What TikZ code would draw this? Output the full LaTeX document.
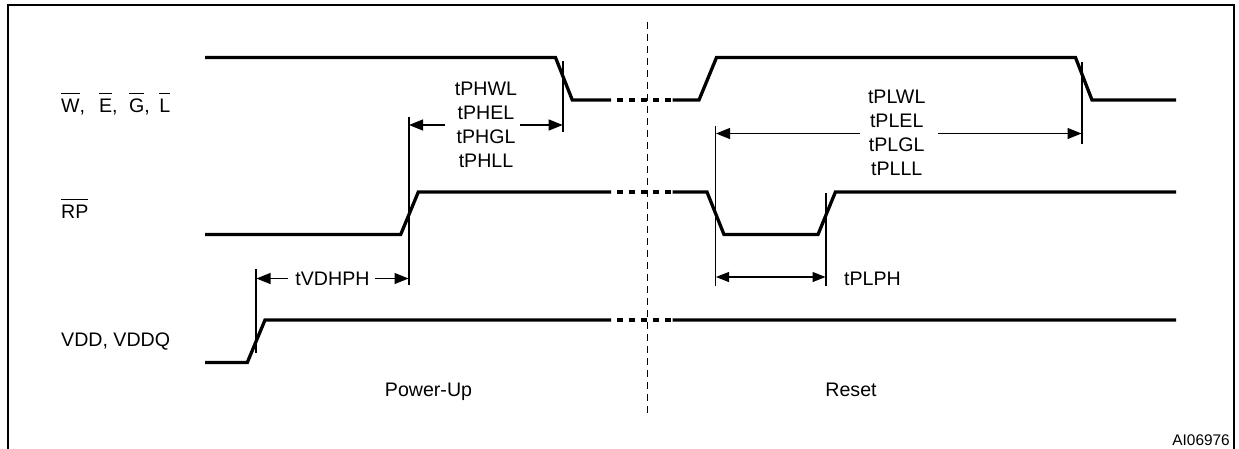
\documentclass[tikz,border=0pt]{standalone}
\usepackage{fontspec}
\setmainfont{Liberation Sans}
\usetikzlibrary{arrows.meta}
\tikzset{
 sig/.style={line width=3.3pt,line join=miter},
 sigbreak/.style={line width=3.3pt,dash pattern=on 6pt off 6pt},
 ext/.style={line width=1.2pt},
 dim/.style={line width=1.1pt,-{Triangle[length=14pt,width=11pt]}},
 dimtwo/.style={line width=1.1pt,{Triangle[length=13pt,width=10pt]}-{Triangle[length=13pt,width=10pt]}},
 lab/.style={font=\fontsize{19.6}{24}\selectfont,inner sep=0pt,anchor=base},
 frame/.style={line width=2pt},
 divider/.style={line width=1.3pt,dash pattern=on 7pt off 5pt},
}
\newcommand{\ovl}[1]{\leavevmode\vbox{\hrule height 1.1pt \kern 4.6pt \hbox{#1}}}
\begin{document}
\begin{tikzpicture}[x=1pt,y=-1pt]
\useasboundingbox (0,0) rectangle (1239,448);
\draw[frame] (8,449) -- (8,5) -- (1233.5,5) -- (1233.5,449);
\coordinate (da) at (647.5,22); \coordinate (db) at (647.5,413);
\draw[divider] (da) -- (db);
% top
\draw[sig] (205,57.5) -- (555.5,57.5) -- (572.3,100) -- (611,100);
\draw[sigbreak] (617,100) -- (672,100);
\draw[sig] (672.5,100) -- (699,100) -- (716.5,57.5) -- (1075.5,57.5) -- (1092,100) -- (1176,100);
% RP
\draw[sig] (205,234.5) -- (400.7,234.5) -- (418.3,192) -- (611,192);
\draw[sigbreak] (617,192) -- (672,192);
\draw[sig] (672.5,192) -- (707,192) -- (724,234.5) -- (818,234.5) -- (835.4,192) -- (1176,192);
% VDD
\draw[sig] (205,362.5) -- (247.3,362.5) -- (265,320) -- (611,320);
\draw[sigbreak] (617,320) -- (672,320);
\draw[sig] (672.5,320) -- (900,320.02) -- (1176,320);
% extensions
\coordinate (e1a) at (409,116.7); \coordinate (e1b) at (409,285);
\coordinate (e2a) at (563,61); \coordinate (e2b) at (563,132.3);
\coordinate (e3a) at (715.5,126); \coordinate (e3b) at (715.5,285.5);
\coordinate (e4a) at (1082,61.7); \coordinate (e4b) at (1082,143.5);
\coordinate (e5a) at (826,193); \coordinate (e5b) at (826,285.5);
\coordinate (e6a) at (256,269); \coordinate (e6b) at (256,353.3);
\foreach \a/\b in {e1a/e1b,e2a/e2b,e3a/e3b,e4a/e4b,e5a/e5b,e6a/e6b}{\draw[ext] (\a) -- (\b);}
% dimension arrows
\coordinate (d1a) at (445,125); \coordinate (d1t) at (409,125);
\coordinate (d2a) at (520,125); \coordinate (d2t) at (562.7,125);
\coordinate (d3a) at (859.7,133.5); \coordinate (d3t) at (716,133.5);
\coordinate (d4a) at (938,133.5); \coordinate (d4t) at (1081.5,133.5);
\coordinate (d5a) at (716,277); \coordinate (d5b) at (825.5,277);
\coordinate (d6a) at (288,278.5); \coordinate (d6t) at (256.5,278.5);
\coordinate (d7a) at (375,278.5); \coordinate (d7t) at (408.5,278.5);
\draw[dim] (d1a) -- (d1t);
\draw[dim] (d2a) -- (d2t);
\draw[dim] (d3a) -- (d3t);
\draw[dim] (d4a) -- (d4t);
\draw[dimtwo] (d5a) -- (d5b);
\draw[dim] (d6a) -- (d6t);
\draw[dim] (d7a) -- (d7t);
% labels
\node[lab] (a1) at (486,95) {tPHWL};
\node[lab] (a2) at (486,119.3) {tPHEL};
\node[lab] (a3) at (486,143.3) {tPHGL};
\node[lab] (a4) at (486,167.3) {tPHLL};
\node[lab] (b1) at (896.7,103.3) {tPLWL};
\node[lab] (b2) at (896.7,127.3) {tPLEL};
\node[lab] (b3) at (896.7,151.3) {tPLGL};
\node[lab] (b4) at (896.7,175.3) {tPLLL};
\node[lab,anchor=base west] (c) at (844,285.7) {tPLPH};
\node[lab] (d) at (332.5,285.7) {tVDHPH};
\node[lab] (p) at (428.5,396.7) {Power-Up};
\node[lab] (r) at (851,396.7) {Reset};
\node[lab,anchor=base west] (v) at (61,346.7) {VDD, VDDQ};
\node[lab,anchor=base west] (s1) at (61,112) {\ovl{W},\hspace{14pt}\ovl{E},\hspace{11.5pt}\ovl{G},\hspace{9.5pt}\ovl{L}};
\node[lab,anchor=base west] (s2) at (61,218) {\ovl{RP}};
\node[anchor=base east,inner sep=0pt,font=\fontsize{15.4}{18}\selectfont] (id) at (1230,445) {AI06976};
\end{tikzpicture}
\end{document}
